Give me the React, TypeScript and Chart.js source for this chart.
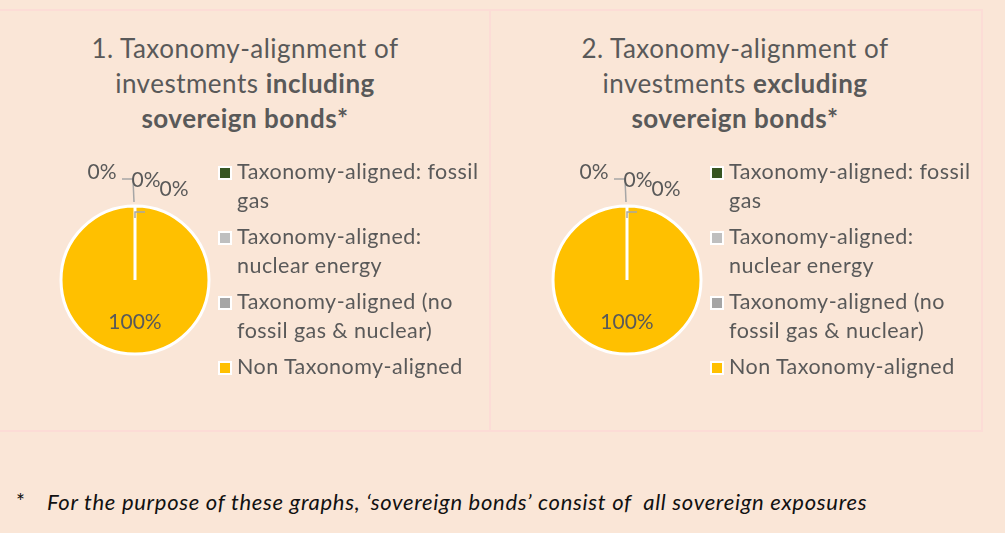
import React, { useEffect, useRef } from "react";
import { Chart, registerables } from "chart.js";

Chart.register(...registerables);

// ---- data ----
const categories = [
  "Taxonomy-aligned: fossil gas",
  "Taxonomy-aligned: nuclear energy",
  "Taxonomy-aligned (no fossil gas & nuclear)",
  "Non Taxonomy-aligned",
];
const legendLines = [
  ["Taxonomy-aligned: fossil", "gas"],
  ["Taxonomy-aligned:", "nuclear energy"],
  ["Taxonomy-aligned (no", "fossil gas & nuclear)"],
  ["Non Taxonomy-aligned"],
];
const valuesIncludingSovereign = [0, 0, 0, 100];
const valuesExcludingSovereign = [0, 0, 0, 100];
const sliceColors = ["#375623", "#BFBFBF", "#A5A5A5", "#FFC000"];
const footnote = "For the purpose of these graphs, \u2018sovereign bonds\u2019 consist of  all sovereign exposures";

// ---- styles ----
const FONT = "Lato, 'Open Sans', sans-serif";
const TEXT = "#595959";
const BG = "#FAE6D7";
const BORDER = "#FCDCD6";

// label placement (style) relative to the pie centre
const zeroLabelOffsets = [
  [-33, -108],
  [11, -100],
  [39, -91],
];
const leaderLines = [
  [
    [-13, -101],
    [-2, -101],
    [-1, -78],
  ],
  [
    [0, -62],
    [0, -68],
    [10, -68],
  ],
];

const labelPlugin = {
  id: "sliceLabels",
  afterDatasetsDraw(chart: any) {
    const ctx = chart.ctx as CanvasRenderingContext2D;
    const meta = chart.getDatasetMeta(0);
    const data = chart.data.datasets[0].data as number[];
    const arcs = meta.data;
    if (!arcs.length) return;
    const cx = arcs[0].x;
    const cy = arcs[0].y;
    ctx.save();
    ctx.strokeStyle = "#A6A6A6";
    ctx.lineWidth = 1.5;
    leaderLines.forEach((pts) => {
      ctx.beginPath();
      pts.forEach(([dx, dy], i) => {
        if (i === 0) ctx.moveTo(cx + dx, cy + dy);
        else ctx.lineTo(cx + dx, cy + dy);
      });
      ctx.stroke();
    });
    ctx.fillStyle = TEXT;
    ctx.font = `21px ${FONT}`;
    ctx.textAlign = "center";
    ctx.textBaseline = "middle";
    let z = 0;
    arcs.forEach((arc: any, i: number) => {
      const v = data[i];
      const text = `${v}%`;
      if (v === 0) {
        const [dx, dy] = zeroLabelOffsets[z++ % zeroLabelOffsets.length];
        ctx.fillText(text, cx + dx, cy + dy);
      } else {
        const { startAngle, endAngle, outerRadius } = arc.getProps(["startAngle", "endAngle", "outerRadius"]);
        const mid = (startAngle + endAngle) / 2;
        ctx.fillText(text, cx + Math.cos(mid) * outerRadius * 0.57, cy + Math.sin(mid) * outerRadius * 0.57);
      }
    });
    ctx.restore();
  },
};

function PieChart({ values, left, top }: { values: number[]; left: number; top: number }) {
  const ref = useRef<HTMLCanvasElement>(null);
  useEffect(() => {
    const chart = new Chart(ref.current as HTMLCanvasElement, {
      type: "pie",
      data: {
        labels: categories,
        datasets: [
          {
            data: values,
            backgroundColor: sliceColors,
            borderColor: "#FFFFFF",
            borderWidth: 3,
            radius: 74,
          } as any,
        ],
      },
      options: {
        responsive: false,
        animation: false,
        events: [],
        layout: { padding: { left: 10, right: 10, top: 40, bottom: 10 } },
        plugins: { legend: { display: false }, tooltip: { enabled: false }, title: { display: false } },
      },
      plugins: [labelPlugin],
    });
    return () => chart.destroy();
  }, [values]);
  return (
    <canvas
      ref={ref}
      width={180}
      height={230}
      style={{ position: "absolute", left, top, width: 180, height: 230 }}
    />
  );
}

function Legend({ left, top }: { left: number; top: number }) {
  return (
    <div
      style={{
        position: "absolute",
        left,
        top,
        font: `21.5px ${FONT}`,
        letterSpacing: "0.45px",
        color: TEXT,
        lineHeight: "29px",
      }}
    >
      {legendLines.map((lines, i) => (
        <div key={i} style={{ display: "flex", alignItems: "flex-start", marginBottom: 7 }}>
          <div
            style={{
              width: 10,
              height: 10,
              border: "2px solid #FFFFFF",
              background: sliceColors[i],
              marginTop: 9,
              marginRight: 5,
              flex: "none",
            }}
          />
          <div style={{ whiteSpace: "nowrap" }}>
            {lines.map((l, j) => (
              <div key={j}>{l}</div>
            ))}
          </div>
        </div>
      ))}
    </div>
  );
}

function Title({ left, num, word }: { left: number; num: string; word: string }) {
  return (
    <div
      style={{
        position: "absolute",
        left,
        top: 31,
        width: 490,
        textAlign: "center",
        font: `26px ${FONT}`,
        letterSpacing: "0.5px",
        lineHeight: "35px",
        color: TEXT,
        whiteSpace: "nowrap",
      }}
    >
      {num}. Taxonomy-alignment of
      <br />
      investments <b>{word}</b>
      <br />
      <b>sovereign bonds*</b>
    </div>
  );
}

export default function App() {
  const panels = [
    { x: 0, nudge: 0, num: "1", word: "including", values: valuesIncludingSovereign },
    { x: 490, nudge: 2, num: "2", word: "excluding", values: valuesExcludingSovereign },
  ];
  return (
    <div
      style={{
        position: "absolute",
        left: 0,
        top: 0,
        width: 1005,
        height: 533,
        background: BG,
        overflow: "hidden",
        fontFamily: FONT,
      }}
    >
      <div
        style={{
          position: "absolute",
          left: -2,
          top: 9,
          width: 493,
          height: 423,
          boxSizing: "border-box",
          border: `2px solid ${BORDER}`,
        }}
      />
      <div
        style={{
          position: "absolute",
          left: 489,
          top: 9,
          width: 494,
          height: 423,
          boxSizing: "border-box",
          border: `2px solid ${BORDER}`,
        }}
      />
      {panels.map((p) => (
        <React.Fragment key={p.num}>
          <Title left={p.x} num={p.num} word={p.word} />
          <PieChart values={p.values} left={p.x + p.nudge + 45} top={150} />
          <Legend left={p.x + p.nudge + 218} top={157} />
        </React.Fragment>
      ))}
      <div
        style={{
          position: "absolute",
          left: 16,
          top: 488,
          font: `21px ${FONT}`,
          color: "#111111",
          whiteSpace: "pre",
        }}
      >
        *
      </div>
      <div
        style={{
          position: "absolute",
          left: 47,
          top: 488,
          font: `italic 22px ${FONT}`,
          letterSpacing: "0.7px",
          color: "#111111",
          whiteSpace: "pre",
        }}
      >
        {footnote}
      </div>
    </div>
  );
}
